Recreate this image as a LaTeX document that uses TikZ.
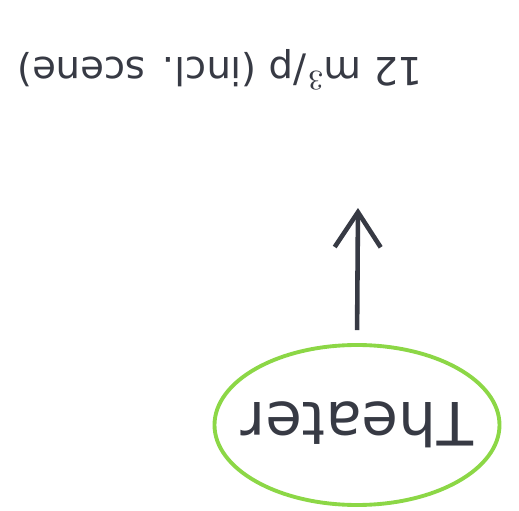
\documentclass[tikz,border=0pt]{standalone}
\usepackage{fontspec}
\setmainfont{DejaVu Sans}
\usepackage{xcolor}
\usetikzlibrary{shapes.geometric, arrows.meta, positioning}

\definecolor{pen}{RGB}{55,58,68}
\definecolor{marker}{RGB}{140,215,70}

\begin{document}
\begin{tikzpicture}[
  roombox/.style={ellipse, draw=marker, line width=1.1pt,
              minimum width=2.85cm, minimum height=1.6cm, align=center,
              inner sep=2pt, font=\fontsize{17}{20}\selectfont, text=pen, rotate=180},
  notebox/.style={align=center, inner sep=2pt,
              font=\fontsize{11}{14}\selectfont, text=pen, rotate=180},
  arrow/.style={-{Straight Barb[length=3.5mm, width=4.6mm]}, line width=1.3pt, draw=pen}
]
\useasboundingbox (0,0) rectangle (5.19,-5.11);
\node[roombox] (theater) at (3.57,-4.25) {\makebox[0pt]{Theater}};
\node[notebox] (rate) at (2.2,-0.7) {12 m$^3$/p (incl. scene)};
\coordinate (tip) at (3.58,-2.08);

\draw[arrow, shorten <=1.3mm] (theater.south) -- (tip);
\end{tikzpicture}
\end{document}
